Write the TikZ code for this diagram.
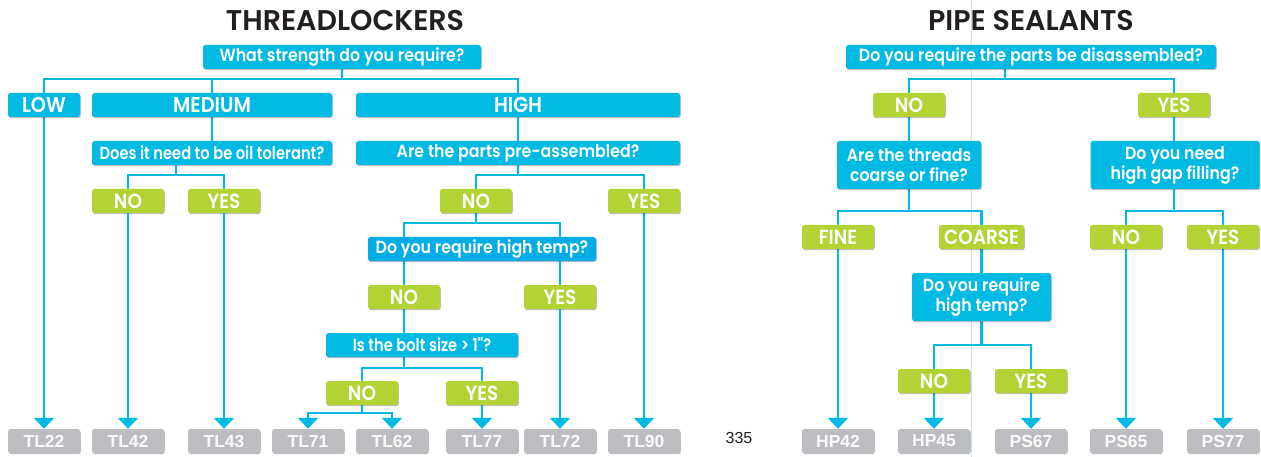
\documentclass[tikz,border=0pt]{standalone}
\usepackage{fontspec}
\setmainfont{Poppins}
\IfFontExistsTF{Poppins SemiBold}{%
  \newfontfamily\boxfont{Poppins SemiBold}[FakeStretch=0.9]%
  \newfontfamily\boxfontc{Poppins SemiBold}[FakeStretch=0.835]%
  \newfontfamily\ttlfont{Poppins SemiBold}%
  \let\bw\relax}{%
  \newfontfamily\boxfont{Poppins}[FakeStretch=0.9]%
  \newfontfamily\boxfontc{Poppins}[FakeStretch=0.835]%
  \newfontfamily\ttlfont{Poppins}%
  \let\bw\bfseries}
\newfontfamily\labfont{Liberation Sans}
\usetikzlibrary{arrows.meta,shadows,backgrounds}
\definecolor{lblue}{RGB}{0,186,228}
\definecolor{lblueb}{RGB}{0,172,230}
\definecolor{lgreen}{RGB}{179,210,52}
\definecolor{lgray}{RGB}{188,189,192}
\definecolor{ltitle}{RGB}{35,31,32}
\definecolor{lfold}{RGB}{205,228,240}
\begin{document}
\begin{tikzpicture}[x=1pt,y=-1pt,
  base/.style={rounded corners=2.5pt, inner sep=0pt, minimum height=24pt, text=white,
    drop shadow={shadow xshift=0.8pt, shadow yshift=-1.2pt, opacity=0.25, fill=black}},
  qbox/.style={base, fill=lblue, align=center, font=\boxfont\bw\fontsize{17.6}{20}\selectfont},
  qboxc/.style={qbox, font=\boxfontc\bw\fontsize{17.6}{20}\selectfont},
  cbox/.style={base, fill=lblue, font=\boxfont\bw\fontsize{21.5}{22}\selectfont},
  abox/.style={base, fill=lgreen, minimum width=72pt, font=\boxfont\bw\fontsize{20.5}{22}\selectfont},
  rbox/.style={base, fill=lgray, minimum width=72pt, text=white!94!lgray, font=\labfont\bfseries\fontsize{17.5}{19}\selectfont},
  conn/.style={draw=lblue, line width=2.4pt},
  arr/.style={conn, -{Triangle[width=20pt,length=11pt]}},
  arrtwo/.style={conn, {Triangle[width=20pt,length=11pt]}-{Triangle[width=20pt,length=11pt]}},
  ttl/.style={text=ltitle, font=\ttlfont\bw\fontsize{28.5}{30}\selectfont}]
\useasboundingbox (0,0) rectangle (1261,457);

% titles
\node[ttl] (t1) at (345,21) {THREADLOCKERS};
\node[ttl] (t2) at (1031,21) {PIPE SEALANTS};

% ---------- threadlockers ----------
\node[qbox, minimum width=278pt] (q1) at (342,57) {What strength do you require?};
\node[cbox, minimum width=72pt] (low) at (44,105) {LOW};
\node[cbox, minimum width=240pt] (med) at (212,105) {MEDIUM};
\node[cbox, minimum width=324pt] (high) at (518,105) {HIGH};
\node[qboxc, minimum width=240pt] (qoil) at (212,153) {Does it need to be oil tolerant?};
\node[qbox, minimum width=324pt] (qpre) at (518,153) {Are the parts pre-assembled?};
\node[abox] (no1) at (128,201) {NO};
\node[abox] (yes1) at (224,201) {YES};
\node[abox] (no2) at (476,201) {NO};
\node[abox] (yes2) at (644,201) {YES};
\node[qbox, fill=lblueb, minimum width=228pt] (qtemp) at (482,249) {Do you require high temp?};
\node[abox] (no3) at (404,297) {NO};
\node[abox] (yes3) at (560,297) {YES};
\node[qboxc, minimum width=192pt] (qbolt) at (422,345) {Is the bolt size > 1"?};
\node[abox] (no4) at (362,393) {NO};
\node[abox] (yes4) at (482,393) {YES};

\node[rbox] (tl22) at (44,441) {TL22};
\node[rbox] (tl42) at (128,441) {TL42};
\node[rbox] (tl43) at (224,441) {TL43};
\node[rbox] (tl71) at (308,441) {TL71};
\node[rbox] (tl62) at (392,441) {TL62};
\node[rbox] (tl77) at (482,441) {TL77};
\node[rbox] (tl72) at (560,441) {TL72};
\node[rbox] (tl90) at (644,441) {TL90};

\node[text=ltitle, font=\labfont\fontsize{16}{18}\selectfont] (pg) at (739,438) {335};

% ---------- pipe sealants ----------
\node[qbox, minimum width=370pt] (q2) at (1031,57) {Do you require the parts be disassembled?};
\node[abox] (no5) at (909,105) {NO};
\node[abox] (yes5) at (1174,105) {YES};
\node[qbox, minimum width=144pt, minimum height=48pt] (qthr) at (909,165) {Are the threads\\coarse or fine?};
\node[qbox, minimum width=169pt, minimum height=48pt] (qgap) at (1175,165) {Do you need\\high gap filling?};
\node[abox] (fine) at (838,237) {FINE};
\node[abox, minimum width=85pt] (coarse) at (981.5,237) {COARSE};
\node[abox] (no6) at (1126,237) {NO};
\node[abox] (yes6) at (1223,237) {YES};
\node[qbox, minimum width=139pt, minimum height=48pt] (qtemp2) at (981.5,297) {Do you require\\high temp?};
\node[abox] (no7) at (934,381) {NO};
\node[abox] (yes7) at (1031,381) {YES};

\node[rbox] (hp42) at (838,441) {HP42};
\node[rbox] (hp45) at (934,441) {HP45};
\node[rbox] (ps67) at (1031,441) {PS67};
\node[rbox] (ps65) at (1126,441) {PS65};
\node[rbox] (ps77) at (1223,441) {PS77};

% junctions
\coordinate (j1) at (0,79);
\coordinate (j2) at (0,175);
\coordinate (j3) at (0,223);
\coordinate (j4) at (0,368);
\coordinate (j5) at (0,413);
\coordinate (j6) at (0,211);
\coordinate (j7) at (0,345);
\coordinate (qoilstem) at (176,165);
\coordinate (q2stem) at (1005,69);

\begin{scope}[on background layer]
\draw[lfold, line width=1pt] (971,0) -- (971,457);
% threadlockers
\draw[conn] (q1.south) -- (q1.south |- j1);
\draw[conn] (low.north) -- (low.north |- j1) -- (high.north |- j1) -- (high.north);
\draw[conn] (med.north) -- (med.north |- j1);
\draw[conn] (med.south) -- (qoil.north);
\draw[conn] (high.south) -- (qpre.north);
\draw[conn] (qoilstem) -- (qoilstem |- j2);
\draw[conn] (no1.north) -- (no1.north |- j2) -- (yes1.north |- j2) -- (yes1.north);
\draw[conn] (qpre.south) -- (qpre.south |- j2);
\draw[conn] (no2.north) -- (no2.north |- j2) -- (yes2.north |- j2) -- (yes2.north);
\draw[conn] (no2.south) -- (no2.south |- j3);
\draw[conn] (no3.north) -- (no3.north |- j3) -- (yes3.north |- j3) -- (yes3.north);
\draw[conn] (no3.south) -- (no3.south |- qbolt.north);
\draw[conn] (no3.south |- qbolt.south) -- (no3.south |- j4);
\draw[conn] (no4.north) -- (no4.north |- j4) -- (yes4.north |- j4) -- (yes4.north);
\draw[conn] (no4.south) -- (no4.south |- j5);
\draw[arrtwo] (tl71.north) -- (tl71.north |- j5) -- (tl62.north |- j5) -- (tl62.north);
\draw[arr] (low.south) -- (tl22.north);
\draw[arr] (no1.south) -- (tl42.north);
\draw[arr] (yes1.south) -- (tl43.north);
\draw[arr] (yes4.south) -- (tl77.north);
\draw[arr] (yes3.south) -- (tl72.north);
\draw[arr] (yes2.south) -- (tl90.north);
% pipe sealants
\draw[conn] (q2stem) -- (q2stem |- j1);
\draw[conn] (no5.north) -- (no5.north |- j1) -- (yes5.north |- j1) -- (yes5.north);
\draw[conn] (no5.south) -- (qthr.north);
\draw[conn] (yes5.south) -- (yes5.south |- qgap.north);
\draw[conn] (qthr.south) -- (qthr.south |- j6);
\draw[conn] (fine.north) -- (fine.north |- j6) -- (coarse.north |- j6) -- (coarse.north);
\draw[conn] (yes5.south |- qgap.south) -- (yes5.south |- j6);
\draw[conn] (no6.north) -- (no6.north |- j6) -- (yes6.north |- j6) -- (yes6.north);
\draw[conn] (coarse.south) -- (qtemp2.north);
\draw[conn] (qtemp2.south) -- (qtemp2.south |- j7);
\draw[conn] (no7.north) -- (no7.north |- j7) -- (yes7.north |- j7) -- (yes7.north);
\draw[arr] (fine.south) -- (hp42.north);
\draw[arr] (no7.south) -- (hp45.north);
\draw[arr] (yes7.south) -- (ps67.north);
\draw[arr] (no6.south) -- (ps65.north);
\draw[arr] (yes6.south) -- (ps77.north);
\end{scope}
\end{tikzpicture}
\end{document}
